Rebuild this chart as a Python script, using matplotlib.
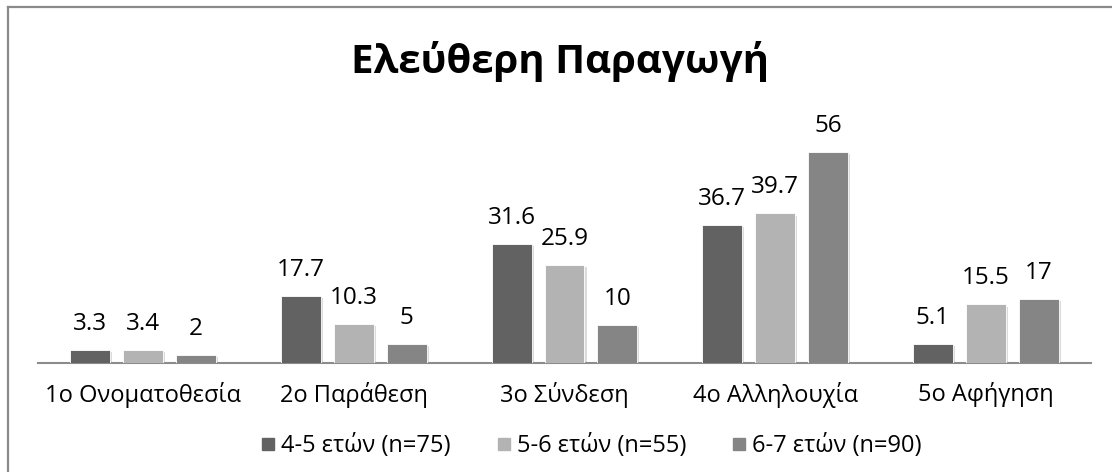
import matplotlib
matplotlib.use("Agg")
import matplotlib.pyplot as plt
import matplotlib.patheffects as pe
from matplotlib.lines import Line2D
import numpy as np

plt.rcParams['font.family'] = ['Open Sans', 'DejaVu Sans']

title = "Ελεύθερη Παραγωγή"
categories = ["1ο Ονοματοθεσία", "2ο Παράθεση", "3ο Σύνδεση", "4ο Αλληλουχία", "5ο Αφήγηση"]
series_names = ["4-5 ετών (n=75)", "5-6 ετών (n=55)", "6-7 ετών (n=90)"]
s1 = [3.3, 17.7, 31.6, 36.7, 5.1]
s2 = [3.4, 10.3, 25.9, 39.7, 15.5]
s3 = [2, 5, 10, 56, 17]
label_s1 = ["3.3", "17.7", "31.6", "36.7", "5.1"]
label_s2 = ["3.4", "10.3", "25.9", "39.7", "15.5"]
label_s3 = ["2", "5", "10", "56", "17"]
colors = ["#626262", "#b3b3b3", "#858585"]

W, H = 1112, 472
fig = plt.figure(figsize=(W / 100, H / 100), dpi=100)
fig.patch.set_facecolor("white")

ax_left, ax_right = 38, 1091
ax_bottom_px, ax_top_px = 362.7, 120
ax = fig.add_axes([ax_left / W, 1 - ax_bottom_px / H,
                   (ax_right - ax_left) / W, (ax_bottom_px - ax_top_px) / H])

x = np.arange(len(categories))
bw = 40 / 211
off = 53 / 211
shadow = [pe.SimplePatchShadow(offset=(1.5, -1.5), shadow_rgbFace="#999999", alpha=0.35), pe.Normal()]
for k, (vals, labs) in enumerate(zip([s1, s2, s3], [label_s1, label_s2, label_s3])):
    bars = ax.bar(x + (k - 1) * off, vals, width=bw, color=colors[k],
                  edgecolor="white", linewidth=0.6, label=series_names[k], zorder=3)
    for b in bars:
        b.set_path_effects(shadow)
    for b, lab in zip(bars, labs):
        ax.annotate(lab, (b.get_x() + b.get_width() / 2, b.get_height()),
                    xytext=(0, 14.4), textcoords="offset points",
                    ha="center", va="baseline", fontsize=17.5, color="#000000")

ax.set_xlim(-0.5, len(categories) - 0.5)
ax.set_ylim(0, (ax_bottom_px - ax_top_px) / 3.76)
ax.set_xticks(x)
ax.set_xticklabels(categories, fontsize=17, color="#000000")
ax.tick_params(axis="x", length=0, pad=14)
ax.set_yticks([])
for s in ["top", "right", "left"]:
    ax.spines[s].set_visible(False)
ax.spines["bottom"].set_color("#8c8c8c")
ax.spines["bottom"].set_linewidth(1.5)
ax.patch.set_alpha(0)

fig.text(560 / W, 1 - 62 / H, title, ha="center", va="center",
         fontsize=29, fontweight="bold", color="#000000")

handles = [Line2D([], [], marker="s", linestyle="none", markersize=9,
                  markerfacecolor=c, markeredgecolor=c) for c in colors]
fig.legend(handles, series_names, loc="center", bbox_to_anchor=(592 / W, 1 - 446 / H),
           ncol=3, frameon=False, fontsize=17, handlelength=0.5, handletextpad=0.3,
           columnspacing=2.0)

# outer chart frame (only left and top edges visible)
fig.add_artist(Line2D([8 / W, 8 / W], [0, 1 - 7 / H], transform=fig.transFigure,
                      color="#8a8a8a", linewidth=1.6))
fig.add_artist(Line2D([8 / W, 1], [1 - 7 / H, 1 - 7 / H], transform=fig.transFigure,
                      color="#8a8a8a", linewidth=1.6))

fig.savefig("out.png", dpi=100, facecolor="white")
